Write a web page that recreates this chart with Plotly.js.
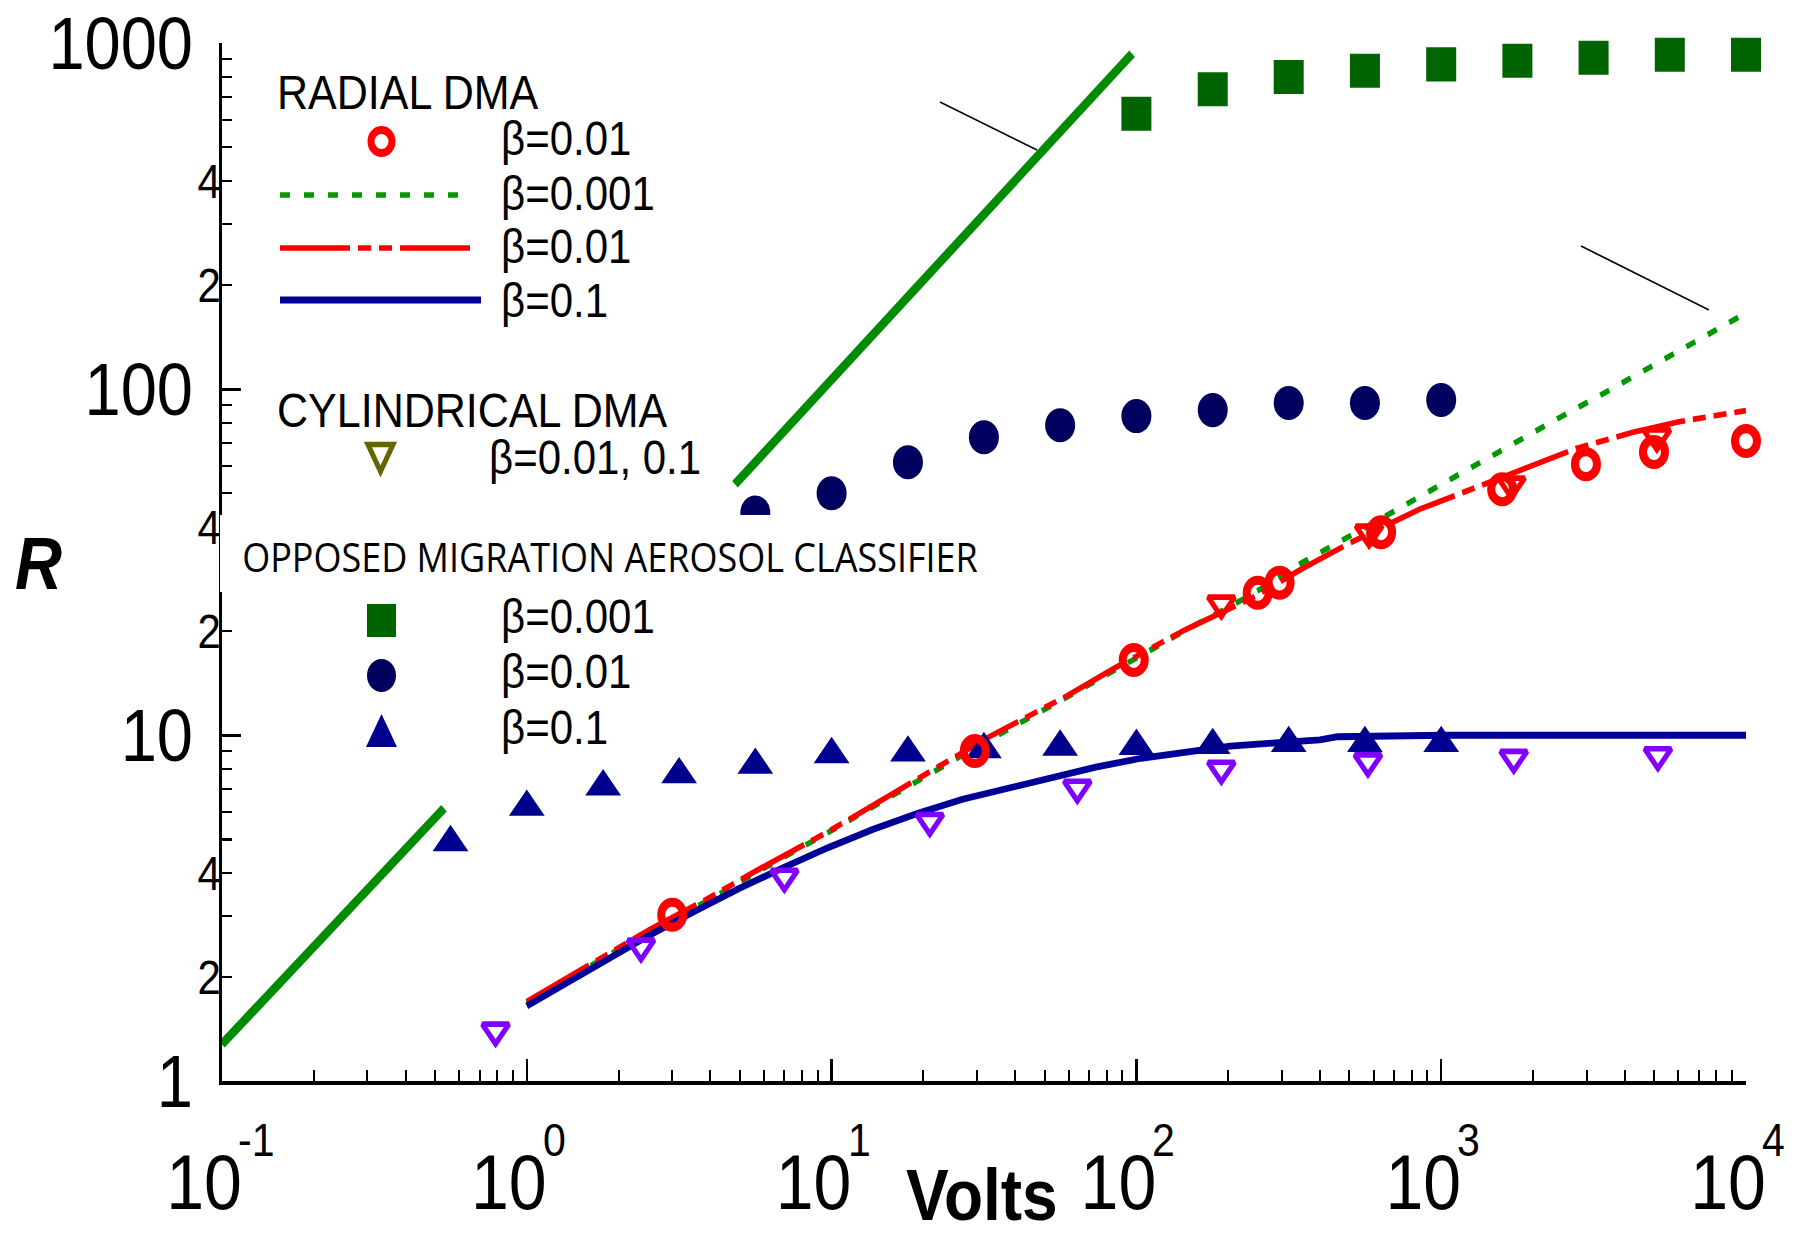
<!DOCTYPE html>
<html><head><meta charset="utf-8">
<script src="https://cdn.plot.ly/plotly-3.0.1.min.js"></script>
<style>
html,body{margin:0;padding:0;background:#fff;overflow:hidden;width:1816px;height:1239px}
#chart{width:1816px;height:1092px;transform:scaleY(1.134615);transform-origin:0 0}
</style></head>
<body><div id="chart"></div>
<script>
// ---------- data ----------
// Opposed Migration Aerosol Classifier (symbols)
const voltsOmac001 = [100, 178, 316, 562, 1000, 1778, 3162, 5623, 10000];
const rOmac001     = [625, 736, 798, 832, 868, 889, 907, 925, 925];
const voltsOmac01  = [5.62, 10, 17.8, 31.6, 56.2, 100, 178, 316, 562, 1000];
const rOmac01      = [44, 50, 61.5, 72.6, 78.7, 83.6, 87, 91.2, 91.2, 93];
const voltsOmac1   = [0.562, 1, 1.78, 3.16, 5.62, 10, 17.8, 31.6, 56.2, 100, 178, 316, 562, 1000];
const rOmac1       = [4.9, 6.2, 7.1, 7.7, 8.2, 8.8, 8.9, 9.1, 9.25, 9.3, 9.35, 9.48, 9.48, 9.48];
// Radial DMA beta=0.01 (open circles)
const voltsRadial01 = [3.0, 29.5, 98, 250, 295, 635, 1585, 2985, 4990, 10000];
const rRadial01     = [3.03, 9.0, 16.5, 25.8, 27.6, 38.6, 51.4, 60.7, 65.8, 70.8];
// Cylindrical DMA (open down triangles)
const voltsCylRed = [190, 580, 1700, 5100];
const rCylRed     = [24, 38.5, 53, 73];
const voltsCylViolet = [0.79, 2.37, 7.0, 21, 64, 190, 575, 1730, 5140];
const rCylViolet     = [1.40, 2.45, 3.9, 5.65, 7.05, 8.0, 8.4, 8.6, 8.75];
// thick green limit line (two pieces)
const voltsLimit = [0.1, 0.535, null, 4.82, 96.8];
const rLimit     = [1.28, 6.15, null, 53.1, 932];
// Radial DMA curves
const voltsCurve001 = [1.0, 2.54, 3.99, 5.69, 9.8, 19.2, 32.9, 58.3, 84.5, 145, 241, 349, 597, 851, 1197, 1683, 2399, 3396, 4842, 6902, 10000];
const rCurve001     = [1.68, 2.72, 3.35, 4.02, 5.25, 7.4, 9.7, 12.8, 15.4, 20.1, 25.6, 31.5, 41, 49, 58, 69, 82, 97, 116, 139, 166];
const voltsCurve01  = [1.0, 2.54, 3.99, 5.69, 9.8, 19.2, 32.9, 58.3, 84.5, 145, 241, 350, 500, 851, 1291, 2080, 2790, 4227, 6026, 7674, 10000];
const rCurve01      = [1.70, 2.75, 3.4, 4.07, 5.28, 7.5, 9.9, 12.9, 15.6, 20.2, 25, 30.3, 35.9, 45, 52, 61.4, 67.5, 75, 80.5, 83.5, 86.7];
const voltsCurve1   = [1.0, 2.54, 3.56, 4.98, 6.98, 9.77, 13.7, 19.2, 26.9, 37.6, 52.8, 73.6, 103.5, 145, 203, 285, 400, 457, 1018, 10000];
const rCurve1       = [1.65, 2.65, 3.1, 3.61, 4.15, 4.74, 5.35, 5.95, 6.53, 7.03, 7.56, 8.09, 8.58, 8.93, 9.3, 9.5, 9.7, 9.9, 10.0, 10.0];

// ticks
const xTickVals = [0.1, 1, 10, 100, 1000, 10000];
const xTickBase = ['10', '10', '10', '10', '10', '10'];
const xTickExp  = ['-1', '0', '1', '2', '3', '4'];
const xMinorVals = [0.2,0.3,0.4,0.5,0.6,0.7,0.8,0.9, 2,3,4,5,6,7,8,9, 20,30,40,50,60,70,80,90, 200,300,400,500,600,700,800,900, 2000,3000,4000,5000,6000,7000,8000,9000];
const yTickVals = [1, 10, 100, 1000];
const yTickText = ['1', '10', '100', '1000'];
const yMinorVals = [2,3,4,5,6,7,8,9, 20,40,50,60,70,80,90, 200,300,400,500,600,700,800,900];
const yMinorLabelVals = [2, 4, 20, 40, 200, 400];
const yMinorLabelText = ['2', '4', '2', '4', '2', '4'];

// ---------- geometry helpers (full-size pixel -> paper) ----------
const SY = 1239 / 1092;
const L = 222, PW = 1524, T = 38, PH = 915;
const px = X => (X - L) / PW;
const py = Y => (T + PH - Y / SY) / PH;

const FONT = 'Liberation Sans, Arial, sans-serif';

const traces = [
  {x: voltsLimit, y: rLimit, mode: 'lines', line: {color: '#008c00', width: 8}, connectgaps: false},
  {x: voltsCurve001, y: rCurve001, mode: 'lines', line: {color: '#009900', width: 5, dash: '10px,14px'}},
  {x: voltsCurve01, y: rCurve01, mode: 'lines', line: {color: '#ff0000', width: 5, dash: '70px,8px,13px,8px,13px,8px'}},
  {x: voltsCurve1, y: rCurve1, mode: 'lines', line: {color: '#000099', width: 6}},
  {x: voltsOmac001, y: rOmac001, mode: 'markers', cliponaxis: false, marker: {symbol: 'square', size: 30, color: '#006400'}},
  {x: voltsOmac01, y: rOmac01, mode: 'markers', cliponaxis: false, marker: {symbol: 'circle', size: 30, color: '#00005e'}},
  {x: voltsCylViolet, y: rCylViolet, mode: 'markers', cliponaxis: false, marker: {symbol: 'triangle-down-open', size: 23, color: '#8000ff', line: {color: '#8000ff', width: 5}}},
  {x: voltsOmac1, y: rOmac1, mode: 'markers', cliponaxis: false, marker: {symbol: 'triangle-up', size: 31, color: '#00008f'}},
  {x: voltsRadial01, y: rRadial01, mode: 'markers', cliponaxis: false, marker: {symbol: 'circle-open', size: 22, color: '#ff0000', line: {color: '#ff0000', width: 8}}},
  {x: voltsCylRed, y: rCylRed, mode: 'markers', cliponaxis: false, marker: {symbol: 'triangle-down-open', size: 23, color: '#ff0000', line: {color: '#ff0000', width: 5}}},
  {x: [], y: [], yaxis: 'y2', mode: 'markers', hoverinfo: 'skip'}
];

function rectShape(x0, y0, x1, y1, fill, line) {
  return {type: 'rect', xref: 'paper', yref: 'paper', x0: px(x0), x1: px(x1), y0: py(y1), y1: py(y0),
          fillcolor: fill, line: line || {width: 0}, layer: 'above'};
}
function lineShape(x0, y0, x1, y1, color, width, dash) {
  return {type: 'line', xref: 'paper', yref: 'paper', x0: px(x0), y0: py(y0), x1: px(x1), y1: py(y1),
          line: {color: color, width: width, dash: dash || 'solid'}, layer: 'above'};
}
function triPath(cx, cy, w, h, up) {
  const a = up ? cy + h / 2 : cy - h / 2, b = up ? cy - h / 2 : cy + h / 2;
  return 'M' + px(cx - w / 2) + ',' + py(a) + ' L' + px(cx + w / 2) + ',' + py(a) + ' L' + px(cx) + ',' + py(b) + ' Z';
}

const shapes = [
  // white box of the OMAC header (hides the axis between the two panels)
  rectShape(220, 515, 1000, 592, '#ffffff'),
  // legend samples
  {type: 'circle', xref: 'paper', yref: 'paper', x0: px(371), x1: px(392), y0: py(153), y1: py(130),
   line: {color: '#ff0000', width: 7}, fillcolor: 'rgba(0,0,0,0)', layer: 'above'},
  lineShape(280, 195, 462, 195, '#009900', 5, '10px,14px'),
  lineShape(280, 248, 472, 248, '#ff0000', 5, '70px,8px,13px,8px,13px,8px'),
  lineShape(280, 300, 481, 300, '#000099', 6),
  {type: 'path', xref: 'paper', yref: 'paper', path: triPath(380.5, 458, 25, 27, false),
   line: {color: '#666600', width: 5}, fillcolor: 'rgba(0,0,0,0)', layer: 'above'},
  rectShape(367, 604, 396, 637, '#006400'),
  {type: 'circle', xref: 'paper', yref: 'paper', x0: px(367), x1: px(396), y0: py(692), y1: py(659),
   line: {width: 0}, fillcolor: '#00005e', layer: 'above'},
  {type: 'path', xref: 'paper', yref: 'paper', path: triPath(381.5, 730.5, 31, 33, true),
   line: {width: 0}, fillcolor: '#00008f', layer: 'above'},
  // leader lines
  lineShape(940, 102, 1037, 150, '#000000', 1.5),
  lineShape(1581, 246, 1709, 310, '#000000', 1.5)
];

function txt(text, X, Y, size, opts) {
  return Object.assign({text: text, xref: 'paper', yref: 'paper', x: px(X), y: py(Y),
    xanchor: 'left', yanchor: 'middle', showarrow: false, borderpad: 0,
    font: {family: FONT, size: size, color: '#000'}}, opts || {});
}

const annotations = [
  txt('RADIAL DMA', 276, 92, 43, {height: 36, valign: 'middle'}),
  txt('β=0.01', 500, 139, 42),
  txt('β=0.001', 500, 194, 42),
  txt('β=0.01', 500, 247, 42),
  txt('β=0.1', 500, 300, 42),
  txt('CYLINDRICAL DMA', 276, 410, 43, {height: 36, valign: 'middle'}),
  txt('β=0.01, 0.1', 488, 458, 42),
  txt('OPPOSED MIGRATION AEROSOL CLASSIFIER', 241, 557, 36, {font: {family: 'Open Sans, sans-serif', size: 36, color: '#000'}}),
  txt('β=0.001', 500, 617, 42),
  txt('β=0.01', 500, 671, 42),
  txt('β=0.1', 500, 728, 42),
  txt('<b><i>R</i></b>', 38, 563, 65, {xanchor: 'center'}),
  txt('<b>Volts</b>', 982, 1195, 64, {xanchor: 'center'})
];
// exponents of the x tick labels (placed at each tick through the x axis)
xTickVals.forEach((v, i) => {
  annotations.push({text: xTickExp[i], xref: 'x', yref: 'paper', x: Math.log10(v), y: py(1168),
    xanchor: 'left', yanchor: 'bottom', xshift: 15, showarrow: false, borderpad: 0,
    font: {family: FONT, size: 41, color: '#000'}});
});

const layout = {
  width: 1816, height: 1092,
  margin: {l: L, r: 1816 - L - PW, t: T, b: 1092 - T - PH, pad: 0},
  paper_bgcolor: '#fff', plot_bgcolor: '#fff',
  showlegend: false,
  font: {family: FONT, color: '#000'},
  xaxis: {
    type: 'log', range: [-1, 4], automargin: false,
    showline: true, linewidth: 3, linecolor: '#000', showgrid: false, zeroline: false,
    ticks: 'inside', ticklen: 20, tickwidth: 2.5, tickcolor: '#000',
    tickmode: 'array', tickvals: xTickVals, ticktext: xTickBase,
    tickfont: {family: FONT, size: 68, color: '#000'}, ticklabelstandoff: 28, ticklabelshift: -18,
    minor: {tickmode: 'array', tickvals: xMinorVals, ticks: 'inside', ticklen: 10, tickwidth: 2, tickcolor: '#000', showgrid: false}
  },
  yaxis: {
    type: 'log', range: [0, 3], automargin: false,
    showline: true, linewidth: 3, linecolor: '#000', showgrid: false, zeroline: false,
    ticks: 'inside', ticklen: 19, tickwidth: 2.5, tickcolor: '#000',
    tickmode: 'array', tickvals: yTickVals, ticktext: yTickText,
    tickfont: {family: FONT, size: 65, color: '#000'}, ticklabelstandoff: 13,
    minor: {tickmode: 'array', tickvals: yMinorVals, ticks: 'inside', ticklen: 10, tickwidth: 2, tickcolor: '#000', showgrid: false}
  },
  yaxis2: {
    type: 'log', range: [0, 3], overlaying: 'y', anchor: 'x', side: 'left', automargin: false,
    showline: false, showgrid: false, zeroline: false, ticks: '',
    tickmode: 'array', tickvals: yMinorLabelVals, ticktext: yMinorLabelText,
    tickfont: {family: FONT, size: 42, color: '#000'}, ticklabelstandoff: 0
  },
  shapes: shapes,
  annotations: annotations
};

Plotly.newPlot('chart', traces, layout, {displayModeBar: false, staticPlot: true});
</script>
</body></html>
